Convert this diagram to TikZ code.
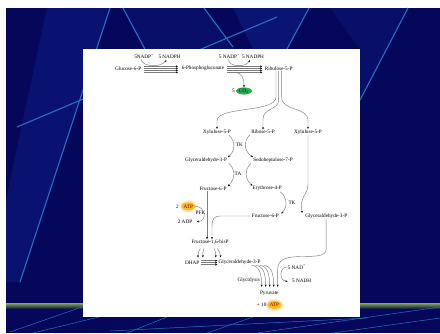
\documentclass[tikz,border=0pt]{standalone}
\usepackage{fontspec}
\setmainfont{Liberation Serif}
\usetikzlibrary{arrows.meta,calc,shapes.geometric}
\definecolor{bgblue}{RGB}{5,8,90}
\definecolor{bgmid}{RGB}{14,32,140}
\definecolor{linblue}{RGB}{45,110,195}
\definecolor{conncol}{RGB}{125,125,125}
\definecolor{co2green}{RGB}{40,175,75}
\definecolor{atporange}{RGB}{250,185,40}
\definecolor{bandgreen}{RGB}{120,160,70}
\begin{document}
\begin{tikzpicture}[x=1pt,y=-1pt,
  lbl/.style={font=\fontsize{5.2}{6}\selectfont, inner sep=0.5pt, text=black},
  conn/.style={draw=conncol, line width=0.45pt},
  arr/.style={conn, -{Stealth[length=2.2pt,width=1.9pt,color=black]}},
  bgline/.style={draw=linblue, line width=1.1pt},
  thinline/.style={draw=linblue, line width=0.5pt},
  atpbox/.style={lbl, ellipse, fill=atporange, inner sep=0.3pt, minimum width=11pt, minimum height=8pt, text=red!50!black},
  co2box/.style={lbl, ellipse, fill=co2green, inner sep=0.3pt, minimum width=16pt, minimum height=7pt, text=black}
]
\useasboundingbox (0,0) rectangle (440,333);
% slide background
\fill[white] (0,0) rectangle (440,333);
\fill[bgblue] (6,8) rectangle (440,333);
\fill[bgmid, opacity=0.45] (47,8) -- (110,8) -- (20,282) -- (6,282) -- (6,200) -- cycle;
\fill[bgmid, opacity=0.3] (123,8) -- (204,8) -- (233,47) -- (233,60) -- (163,83) -- cycle;
\fill[bgmid, opacity=0.5] (233,8) -- (309,8) -- (287,49) -- (253,49) -- cycle;
\fill[bgmid, opacity=0.3] (330,8) -- (408,8) -- (360,100) -- (360,49) -- cycle;
\draw[bgline] (110,8) -- (20,282);
\draw[bgline] (123,8) -- (163,83);
\draw[bgline] (17,127) -- (277,17);
\draw[bgline] (204,8) -- (233,47);
\draw[bgline] (309,8) -- (287,49);
\draw[bgline] (408,8) -- (360,100);
\shade[top color=bandgreen, bottom color=bgblue] (6,303.5) rectangle (440,309);
\draw[thinline] (10,332) -- (82,307);
\draw[thinline] (33,333) -- (107,315);
\draw[thinline] (127,333) -- (167,317);
\draw[thinline] (207,333) -- (253,317);
\draw[thinline] (110,331) -- (367,318);
\draw[thinline] (257,333) -- (440,307);
\draw[thinline] (333,333) -- (440,318);
% white panel
\fill[white] (83,49) rectangle (360,317);

% ovals
\fill[atporange!35] (188.3,206.3) ellipse (8 and 6);
\fill[atporange!35] (274.5,305) ellipse (8.5 and 6);

% nodes
\node[lbl] (g6p) at (128.2,68.3) {Glucose-6-P};
\node[lbl] (pg) at (203,68.3) {6-Phosphogluconate};
\node[lbl] (ru5p) at (278.7,68.3) {Ribulose-5-P};
\node[lbl] (nadp1) at (144,56.7) {5NADP\textsuperscript{+}};
\node[lbl] (nadph1) at (169.5,56.7) {5 NADPH};
\node[lbl] (nadp2) at (229.3,56.7) {5 NADP\textsuperscript{+}};
\node[lbl] (nadph2) at (253,56.7) {5 NADPH};
\node[co2box] (co2) at (244,91) {CO\textsubscript{2}};
\node[lbl] (five) at (233.3,91) {5};
\node[lbl] (xu5pL) at (217,132) {Xylulose-5-P};
\node[lbl] (r5p) at (263,132) {Ribose-5-P};
\node[lbl] (xu5pR) at (308,132) {Xylulose-5-P};
\node[lbl] (tk1) at (239.3,144.3) {TK};
\node[lbl] (ga3pL) at (206,160.3) {Glyceraldehyde-3-P};
\node[lbl] (s7p) at (273,160.3) {Sedoheptulose-7-P};
\node[lbl] (ta) at (238,173.7) {TA};
\node[lbl] (f6pL) at (213,188.7) {Fructose-6-P};
\node[lbl] (e4p) at (267.3,188.7) {Erythrose-4-P};
\node[lbl] (tk2) at (292,202.3) {TK};
\node[lbl] (two) at (177.3,206.3) {2};
\node[atpbox] (atp1) at (188.3,206.3) {ATP};
\node[lbl] (pfk) at (200.5,212.7) {PFK};
\node[lbl] (adp) at (185,221.7) {2 ADP};
\node[lbl] (f6pR) at (265.3,216) {Fructose-6-P};
\node[lbl] (ga3pR) at (326.2,216) {Glyceraldehyde-3-P};
\node[lbl] (fbp) at (210,242) {Fructose-1,6-bisP};
\node[lbl] (dhap) at (192.2,262.7) {DHAP};
\node[lbl] (ga3pB) at (239.5,262.7) {Glyceraldehyde-3-P};
\node[lbl] (nad) at (296.7,267) {5 NAD\textsuperscript{+}};
\node[lbl] (nadh) at (301.7,281.3) {5 NADH};
\node[lbl] (glyc) at (248.7,280) {Glycolysis};
\node[lbl] (pyr) at (269.3,293.3) {Pyruvate};
\node[lbl] (plus) at (261.7,305) {+ 10};
\node[atpbox] (atp2) at (274.5,305) {ATP};

% top arrows
\foreach \dy in {-2,0,2,4} {
  \draw[arr] ($(g6p.east)+(2,\dy)$) -- ($(pg.west)+(-3,\dy)$);
  \draw[arr] ($(pg.east)+(2.5,\dy)$) -- ($(ru5p.west)+(-2,\dy)$);
}
\draw[arr] ([xshift=-3pt]nadp1.south) .. controls (143,67) and (160,68) .. ([xshift=-3pt,yshift=-1pt]nadph1.south);
\draw[arr] ([xshift=-1pt]nadp2.south) .. controls (229,67) and (245,68) .. ([xshift=-3pt,yshift=-1pt]nadph2.south);
\draw[arr] ($(pg.east)+(8,4)$) .. controls (242.5,72.3) and (244,78) .. (co2.north);

% ribulose branches
\draw[arr] ([xshift=-2.7pt]ru5p.south) -- (276,97) .. controls (276,113) and (217,106) .. (217,121) -- (xu5pL.north);
\draw[arr] (ru5p.south) -- (278.7,100) .. controls (278.7,110) and (263,108) .. (263,119) -- (r5p.north);
\draw[arr] ([xshift=3pt]ru5p.south) -- (281.7,97) .. controls (281.7,112) and (308,106) .. (308,121) -- (xu5pR.north);

% TK / TA
\draw[arr] ([xshift=12pt]xu5pL.south) .. controls (236,142) and (235,151) .. ([xshift=22pt]ga3pL.north);
\draw[arr] ([xshift=-13pt]r5p.south) .. controls (243,142) and (244,151) .. ([xshift=-20pt]s7p.north);
\draw[arr] ([xshift=23pt]ga3pL.south) .. controls (236,170) and (235,179) .. ([xshift=15pt]f6pL.north);
\draw[arr] ([xshift=-22pt]s7p.south) .. controls (244,170) and (245,179) .. ([xshift=-15pt]e4p.north);
\draw[arr] ([xshift=13pt]e4p.south) .. controls (287,197) and (288,207) .. ([xshift=16pt]f6pR.north);
\draw[arr] (xu5pR.south) -- (308,184) .. controls (308,196) and (299,196) .. ([xshift=-24pt]ga3pR.north);

% to fructose-1,6-bisP
\draw[arr] ([xshift=-6pt]f6pL.south) -- ([xshift=-3pt]fbp.north);
\draw[arr] (f6pR.west) -- (220,216) .. controls (214,216) and (212,219) .. (212,226) -- ([xshift=2pt]fbp.north);
\draw[arr] (atp1.east) .. controls (205,206) and (208,221) .. ([xshift=4pt]adp.east);

% fbp split
\draw[arr] ($(fbp.south)+(-9.7,3.5)$) to[bend right=15] ($(fbp.south)+(-12,12.5)$);
\draw[arr] ($(fbp.south)+(-6,3.5)$) to[bend right=15] ($(fbp.south)+(-7,12.5)$);
\draw[arr] ($(fbp.south)+(4,3.5)$) to[bend left=15] ($(fbp.south)+(5.7,12.5)$);
\draw[arr] ($(fbp.south)+(7.3,3.5)$) to[bend left=15] ($(fbp.south)+(10.7,12.5)$);
\foreach \dy in {-2,0,2} {
  \draw[arr] ($(dhap.east)+(1.5,\dy)$) -- ($(ga3pB.west)+(-0.5,\dy)$);
}

% to pyruvate
\foreach \i in {0,1,2,3} {
  \draw[arr] ($(ga3pB.east)+(-9.5+4*\i,2.8)$) .. controls +(8,0) and +(0,-12) .. ($(pyr.north)+(-7.6+4*\i,-3.5)$);
}
\draw[arr] (ga3pR.south) -- (326.2,249) .. controls (326.2,256) and (318,256.5) .. (300,256.5) .. controls (284,257) and (277.7,260) .. (277.7,270) -- ($(pyr.north)+(8.4,-3.5)$);
\draw[arr] (nad.west) .. controls (279,267) and (279,281) .. ([xshift=-4pt]nadh.west);
\end{tikzpicture}
\end{document}
